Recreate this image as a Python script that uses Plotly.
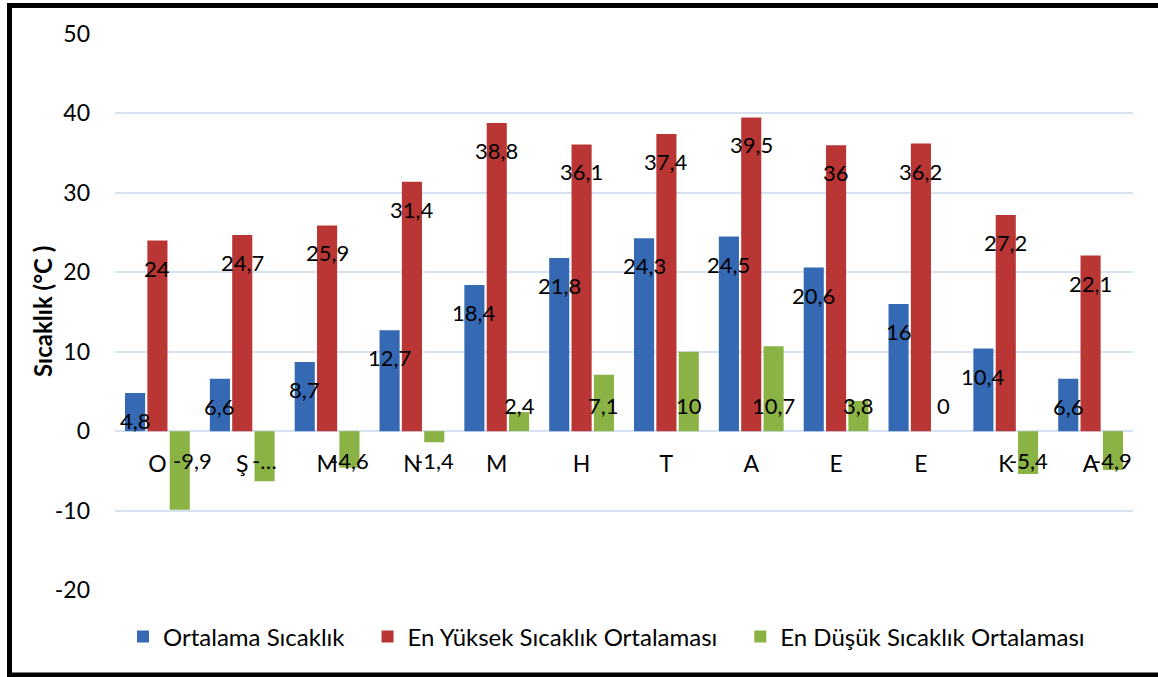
import plotly.graph_objects as go

months = ["O", "Ş", "M", "N", "M", "H", "T", "A", "E", "E", "K", "A"]
ortalama = [4.8, 6.6, 8.7, 12.7, 18.4, 21.8, 24.3, 24.5, 20.6, 16, 10.4, 6.6]
en_yuksek = [24, 24.7, 25.9, 31.4, 38.8, 36.1, 37.4, 39.5, 36, 36.2, 27.2, 22.1]
en_dusuk = [-9.9, -6.3, -4.6, -1.4, 2.4, 7.1, 10, 10.7, 3.8, 0, -5.4, -4.9]
series_names = ["Ortalama Sıcaklık", "En Yüksek Sıcaklık Ortalaması", "En Düşük Sıcaklık Ortalaması"]
colors = ["#3669B4", "#B93634", "#8BB244"]
y_ticks = [-20, -10, 0, 10, 20, 30, 40, 50]
y_title = "Sıcaklık (°C )"

W, H = 1158, 677
L, R, T, B = 115, 25, 34, 87
pw, ph = W - L - R, H - T - B

FONT = "Lato"
BARGAP = 0.21
BARGROUPGAP = 0.1


def fmt(v):
    return f"{v:g}".replace(".", ",")


def labels(vals):
    return [fmt(v) for v in vals]


low_labels = labels(en_dusuk)
low_labels[1] = "-…"

x = list(range(len(months)))
fig = go.Figure()
all_vals = [ortalama, en_yuksek, en_dusuk]
all_labels = [labels(ortalama), labels(en_yuksek), low_labels]
for idx, (name, vals, col) in enumerate(zip(series_names, all_vals, colors)):
    legend_name = name + ("\u2003" if idx < len(series_names) - 1 else "")
    fig.add_trace(go.Bar(x=x, y=vals, name=legend_name, marker=dict(color=col, line=dict(width=0))))

# data labels drawn above all bars
n = len(series_names)
slot = (1 - BARGAP) / n
annotations = []
lab_font = dict(family=FONT, size=22, color="black")
for k, (vals, txts) in enumerate(zip(all_vals, all_labels)):
    off = (k - (n - 1) / 2) * slot
    for i, (v, t) in enumerate(zip(vals, txts)):
        if k < 2:
            annotations.append(dict(x=i + off, y=v, text=t, showarrow=False, xref="x", yref="y",
                                    yanchor="top", yshift=-12, font=lab_font))
        elif v >= 0:
            annotations.append(dict(x=i + off, y=0, text=t, showarrow=False, xref="x", yref="y",
                                    yanchor="bottom", yshift=10, font=lab_font))
        else:
            a = dict(x=i + off, y=0, text=t, showarrow=False, xref="x", yref="y",
                     yanchor="top", yshift=-14, font=lab_font)
            if i == 0:
                a["xshift"] = 13
            annotations.append(a)

# y-axis title
annotations.append(dict(x=(42 - L) / pw, y=0.5, xref="paper", yref="paper", text=f"<b>{y_title}</b>",
                        textangle=-90, showarrow=False, xanchor="center", yanchor="middle",
                        font=dict(family=FONT, size=24, color="black")))

ymin, ymax = -20, 50
fig.update_layout(
    width=W, height=H,
    margin=dict(l=L, r=R, t=T, b=B, pad=0),
    paper_bgcolor="white", plot_bgcolor="white",
    barmode="group", bargap=BARGAP, bargroupgap=BARGROUPGAP,
    font=dict(family=FONT, size=23, color="black"),
    showlegend=True,
    legend=dict(orientation="h", x=8 / pw, xanchor="left", y=(ph - (637 - T)) / ph, yanchor="middle",
                font=dict(family=FONT, size=24, color="black"), itemclick=False,
                traceorder="normal", bgcolor="rgba(0,0,0,0)"),
    xaxis=dict(range=[-0.5, len(months) - 0.5], tickmode="array", tickvals=x, ticktext=months,
               anchor="free", position=(0 - ymin) / (ymax - ymin), showline=False,
               showgrid=False, zeroline=False, ticks="", ticklabelstandoff=17,
               tickfont=dict(family=FONT, size=23, color="black")),
    yaxis=dict(range=[ymin, ymax], tickmode="array", tickvals=y_ticks,
               ticktext=[str(v) for v in y_ticks], showgrid=True, gridcolor="#D6E2F2",
               gridwidth=1.5, zeroline=True, zerolinecolor="#D6E2F2", zerolinewidth=1.5,
               showline=False, ticks="", ticklabelstandoff=24,
               tickfont=dict(family=FONT, size=23, color="black")),
    annotations=annotations,
)


def px2x(p):
    return (p - L) / pw


def py2y(p):
    return (H - B - p) / ph


# outer frame
fig.add_shape(type="rect", xref="paper", yref="paper",
              x0=px2x(9.5), x1=px2x(1175), y0=py2y(675), y1=py2y(5.5),
              line=dict(color="black", width=5), fillcolor="rgba(0,0,0,0)", layer="above")

fig.write_html("out.html", config={"displayModeBar": False},
               post_script="document.body.style.margin='0';")
